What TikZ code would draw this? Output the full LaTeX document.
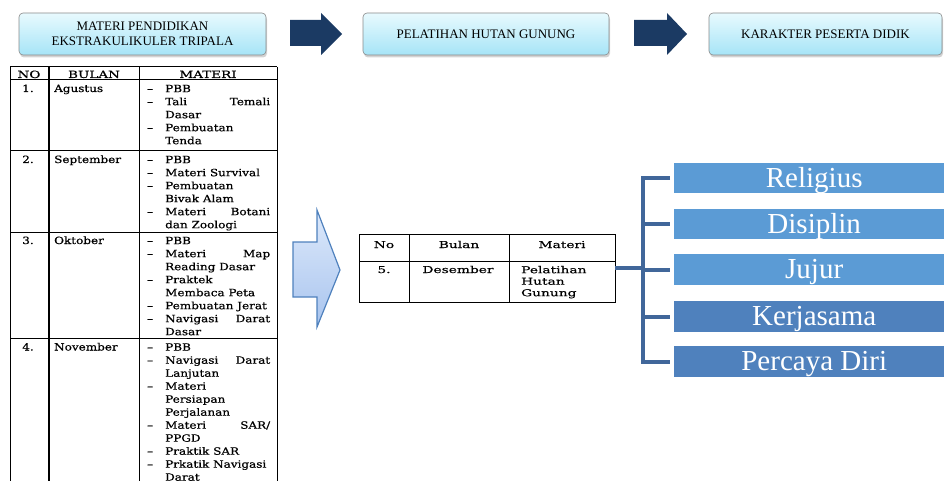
\documentclass[tikz,border=0pt]{standalone}
\usepackage{fontspec}
\setmainfont{Liberation Serif}
\newfontfamily\tabfont[FakeStretch=1.2,FakeBold=0.6]{DejaVu Serif}
\newfontfamily\hdfont[FakeStretch=1.35,FakeBold=0.6]{DejaVu Serif}
\newfontfamily\midfont[FakeStretch=1.45,FakeBold=0.5]{DejaVu Serif}
\usetikzlibrary{shadows}
\definecolor{arrnavy}{HTML}{1B3A63}
\definecolor{boxtop}{HTML}{E8FAFE}
\definecolor{boxbot}{HTML}{A6E4F7}
\definecolor{boxedge}{HTML}{8A8A8A}
\definecolor{bigtop}{HTML}{DDE9FB}
\definecolor{bigbot}{HTML}{A8C4EE}
\definecolor{bigedge}{HTML}{4F81BD}
\definecolor{lightbar}{HTML}{5B9BD5}
\definecolor{darkbar}{HTML}{4F81BD}
\definecolor{brk}{HTML}{41679A}
\newcommand\tdash{\makebox[18pt][l]{–}}
\newcommand\tcont{\hspace*{18pt}}
\newcommand\tjust[2]{\makebox[105pt][s]{#1\hfill #2}}
\tikzset{
  topbox/.style={draw=boxedge, line width=0.6pt, rounded corners=4pt,
    top color=boxtop, bottom color=boxbot,
    drop shadow={opacity=0.35, shadow xshift=1pt, shadow yshift=-2.5pt},
    minimum height=42pt, inner sep=0pt, align=center,
    font=\fontsize{13}{14.5}\selectfont},
  darrow/.style={fill=arrnavy},
  tabtxt/.style={inner sep=0pt, font=\tabfont\fontsize{10}{13}\selectfont},
  hdtxt/.style={inner sep=0pt, font=\hdfont\fontsize{10}{13}\selectfont},
  tabcol/.style={tabtxt, align=left, anchor=north west},
  midtxt/.style={inner sep=0pt, font=\midfont\fontsize{9.5}{11.5}\selectfont},
  tabline/.style={line width=1pt, black},
  bar/.style={draw=none, text=white, inner xsep=0pt, inner ysep=0pt,
    minimum width=280pt, minimum height=30.5pt, text height=21pt, text depth=3pt,
    anchor=west, font=\fontsize{29}{30}\selectfont},
  brkline/.style={brk, line width=4pt, line join=miter},
}
\begin{document}
\begin{tikzpicture}[x=1pt,y=-1pt]
\useasboundingbox (0,0) rectangle (944,481);
\clip (0,0) rectangle (944,481);

% top boxes
\node[topbox, minimum width=247pt] (t1) at (142.5,34) {MATERI PENDIDIKAN\\EKSTRAKULIKULER TRIPALA};
\node[topbox, minimum width=246pt] (t2) at (486,34) {PELATIHAN HUTAN GUNUNG};
\node[topbox, minimum width=233pt] (t3) at (825.5,34) {KARAKTER PESERTA DIDIK};

% dark arrows
\fill[darrow] (290,20) -- (321,20) -- (321,13) -- (342,34) -- (321,55) -- (321,46) -- (290,46) -- cycle;
\fill[darrow] (634,20) -- (667,20) -- (667,13) -- (687,34) -- (667,55) -- (667,46) -- (634,46) -- cycle;

% left table grid
\foreach \yy in {67,80,151,232,338} \draw[tabline] (10,\yy) -- (277,\yy);
\foreach \xx in {10,48,139,277} \draw[tabline] (\xx,67) -- (\xx,490);
\draw[tabline] (49.3,67) -- (49.3,490);

% left table header
\node[hdtxt, anchor=base] (h1) at (29,78) {NO};
\node[hdtxt, anchor=base] (h2) at (94,78) {BULAN};
\node[hdtxt, anchor=base] (h3) at (208,78) {MATERI};

% row 1
\node[tabtxt, anchor=base] (n1) at (28,92) {1.};
\node[tabtxt, anchor=base west] (m1) at (54,92) {Agustus};
\node[tabcol] (c1) at (147,82.9) {\strut\tdash PBB\\
  \tdash\tjust{Tali}{Temali}\\
  \tcont Dasar\\
  \tdash Pembuatan\\
  \tcont Tenda};

% row 2
\node[tabtxt, anchor=base] (n2) at (28,163) {2.};
\node[tabtxt, anchor=base west] (m2) at (54,163) {September};
\node[tabcol] (c2) at (147,153.9) {\strut\tdash PBB\\
  \tdash Materi Survival\\
  \tdash Pembuatan\\
  \tcont Bivak Alam\\
  \tdash\tjust{Materi}{Botani}\\
  \tcont dan Zoologi};

% row 3
\node[tabtxt, anchor=base] (n3) at (28,244) {3.};
\node[tabtxt, anchor=base west] (m3) at (54,244) {Oktober};
\node[tabcol] (c3) at (147,234.9) {\strut\tdash PBB\\
  \tdash\tjust{Materi}{Map}\\
  \tcont Reading Dasar\\
  \tdash Praktek\\
  \tcont Membaca Peta\\
  \tdash Pembuatan Jerat\\
  \tdash\tjust{Navigasi}{Darat}\\
  \tcont Dasar};

% row 4
\node[tabtxt, anchor=base] (n4) at (28,350.5) {4.};
\node[tabtxt, anchor=base west] (m4) at (54,350.5) {November};
\node[tabcol] (c4) at (147,341.4) {\strut\tdash PBB\\
  \tdash\tjust{Navigasi}{Darat}\\
  \tcont Lanjutan\\
  \tdash Materi\\
  \tcont Persiapan\\
  \tcont Perjalanan\\
  \tdash\tjust{Materi}{SAR/}\\
  \tcont PPGD\\
  \tdash Praktik SAR\\
  \tdash Prkatik Navigasi\\
  \tcont Darat};

% big outlined arrow
\draw[bigedge, line width=1.2pt, line join=miter, top color=bigtop, bottom color=bigbot]
  (293,242) -- (317,242) -- (317,210) -- (340,270) -- (317,327) -- (317,297) -- (293,297) -- cycle;

% middle table
\node[draw=none, minimum width=256pt, minimum height=68pt, inner sep=0pt] (midtab) at (487,268) {};
\draw[tabline] (359,234) rectangle (615,302);
\draw[tabline] (359,261) -- (615,261);
\draw[tabline] (409,234) -- (409,302);
\draw[tabline] (509,234) -- (509,302);
\node[midtxt, anchor=base] (mh1) at (384,248) {No};
\node[midtxt, anchor=base] (mh2) at (459,248) {Bulan};
\node[midtxt, anchor=base] (mh3) at (562,248) {Materi};
\node[midtxt, anchor=base] (mr1) at (384,273) {5.};
\node[midtxt, anchor=base] (mr2) at (458,273) {Desember};
\node[midtxt, anchor=north west, align=left] (mr3) at (521,264.95) {\strut Pelatihan\\Hutan\\Gunung};

% character bars
\node[bar, fill=lightbar] (b1) at (674,178) {Religius};
\node[bar, fill=lightbar] (b2) at (674,224) {Disiplin};
\node[bar, fill=lightbar] (b3) at (674,269.5) {Jujur};
\node[bar, fill=darkbar] (b4) at (674,316.5) {Kerjasama};
\node[bar, fill=darkbar] (b5) at (674,361.5) {Percaya Diri};

% bracket connector
\coordinate (jn) at (643,268);
\draw[brkline] (midtab.east |- jn) -- (jn);
\draw[brkline] ([xshift=-4pt]b1.west) -- (jn |- b1.west) -- (jn |- b5.west) -- ([xshift=-4pt]b5.west);
\draw[brkline] (jn |- b2.west) -- ([xshift=-4pt]b2.west);
\draw[brkline] (jn |- b3.west) -- ([xshift=-4pt]b3.west);
\draw[brkline] (jn |- b4.west) -- ([xshift=-4pt]b4.west);
\end{tikzpicture}
\end{document}
